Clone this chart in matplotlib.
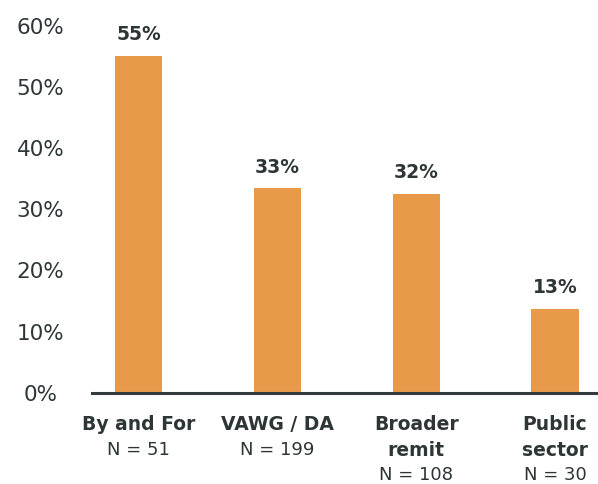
import matplotlib
matplotlib.use("Agg")
import matplotlib.pyplot as plt
from matplotlib.transforms import blended_transform_factory

categories = ["By and For", "VAWG / DA", "Broader\nremit", "Public\nsector"]
sample_sizes = ["N = 51", "N = 199", "N = 108", "N = 30"]
values = [55.0, 33.4, 32.5, 13.7]
value_labels = ["55%", "33%", "32%", "13%"]
yticks = [0, 10, 20, 30, 40, 50, 60]

bar_color = "#E8994A"
text_color = "#2D3535"
font = "DejaVu Sans"

fig = plt.figure(figsize=(5.98, 4.84), dpi=100)
ax = fig.add_axes([92/598, 91.3/484, 1 - 92/598, (392.7-25.7)/484])

x = list(range(len(categories)))
ax.bar(x, values, width=0.34, color=bar_color, zorder=2)
ax.set_xlim(-0.335, 3.31)
ax.set_ylim(0, 60)

for xi, v, lab in zip(x, values, value_labels):
    ax.annotate(lab, (xi, v), xytext=(0, 8.5), textcoords="offset points",
                ha="center", va="bottom", fontsize=13.5, fontweight="bold",
                color=text_color, family=font, annotation_clip=False)

ax.set_yticks(yticks)
ax.set_yticklabels([f"{t}%" for t in yticks], fontsize=15.5, color=text_color, family=font)
for lbl in ax.get_yticklabels():
    lbl.set_horizontalalignment("center")
ax.tick_params(axis="y", length=0, pad=37)
ax.set_xticks([])

for s in ["top", "right", "left"]:
    ax.spines[s].set_visible(False)
ax.spines["bottom"].set_color("#333B3B")
ax.spines["bottom"].set_linewidth(2.2)
ax.spines["bottom"].set_zorder(3)

trans = blended_transform_factory(ax.transData, fig.transFigure)
line_h = 25 / 484
top_y = 1 - 425 / 484
for xi, cat, n in zip(x, categories, sample_sizes):
    lines = cat.split("\n")
    for i, ln in enumerate(lines):
        ax.text(xi, top_y - i * line_h, ln, transform=trans, ha="center", va="center",
                fontsize=13.5, fontweight="bold", color=text_color, family=font)
    ax.text(xi, top_y - len(lines) * line_h, n, transform=trans, ha="center", va="center",
            fontsize=13, color=text_color, family=font)

fig.savefig("out.png", dpi=100)
